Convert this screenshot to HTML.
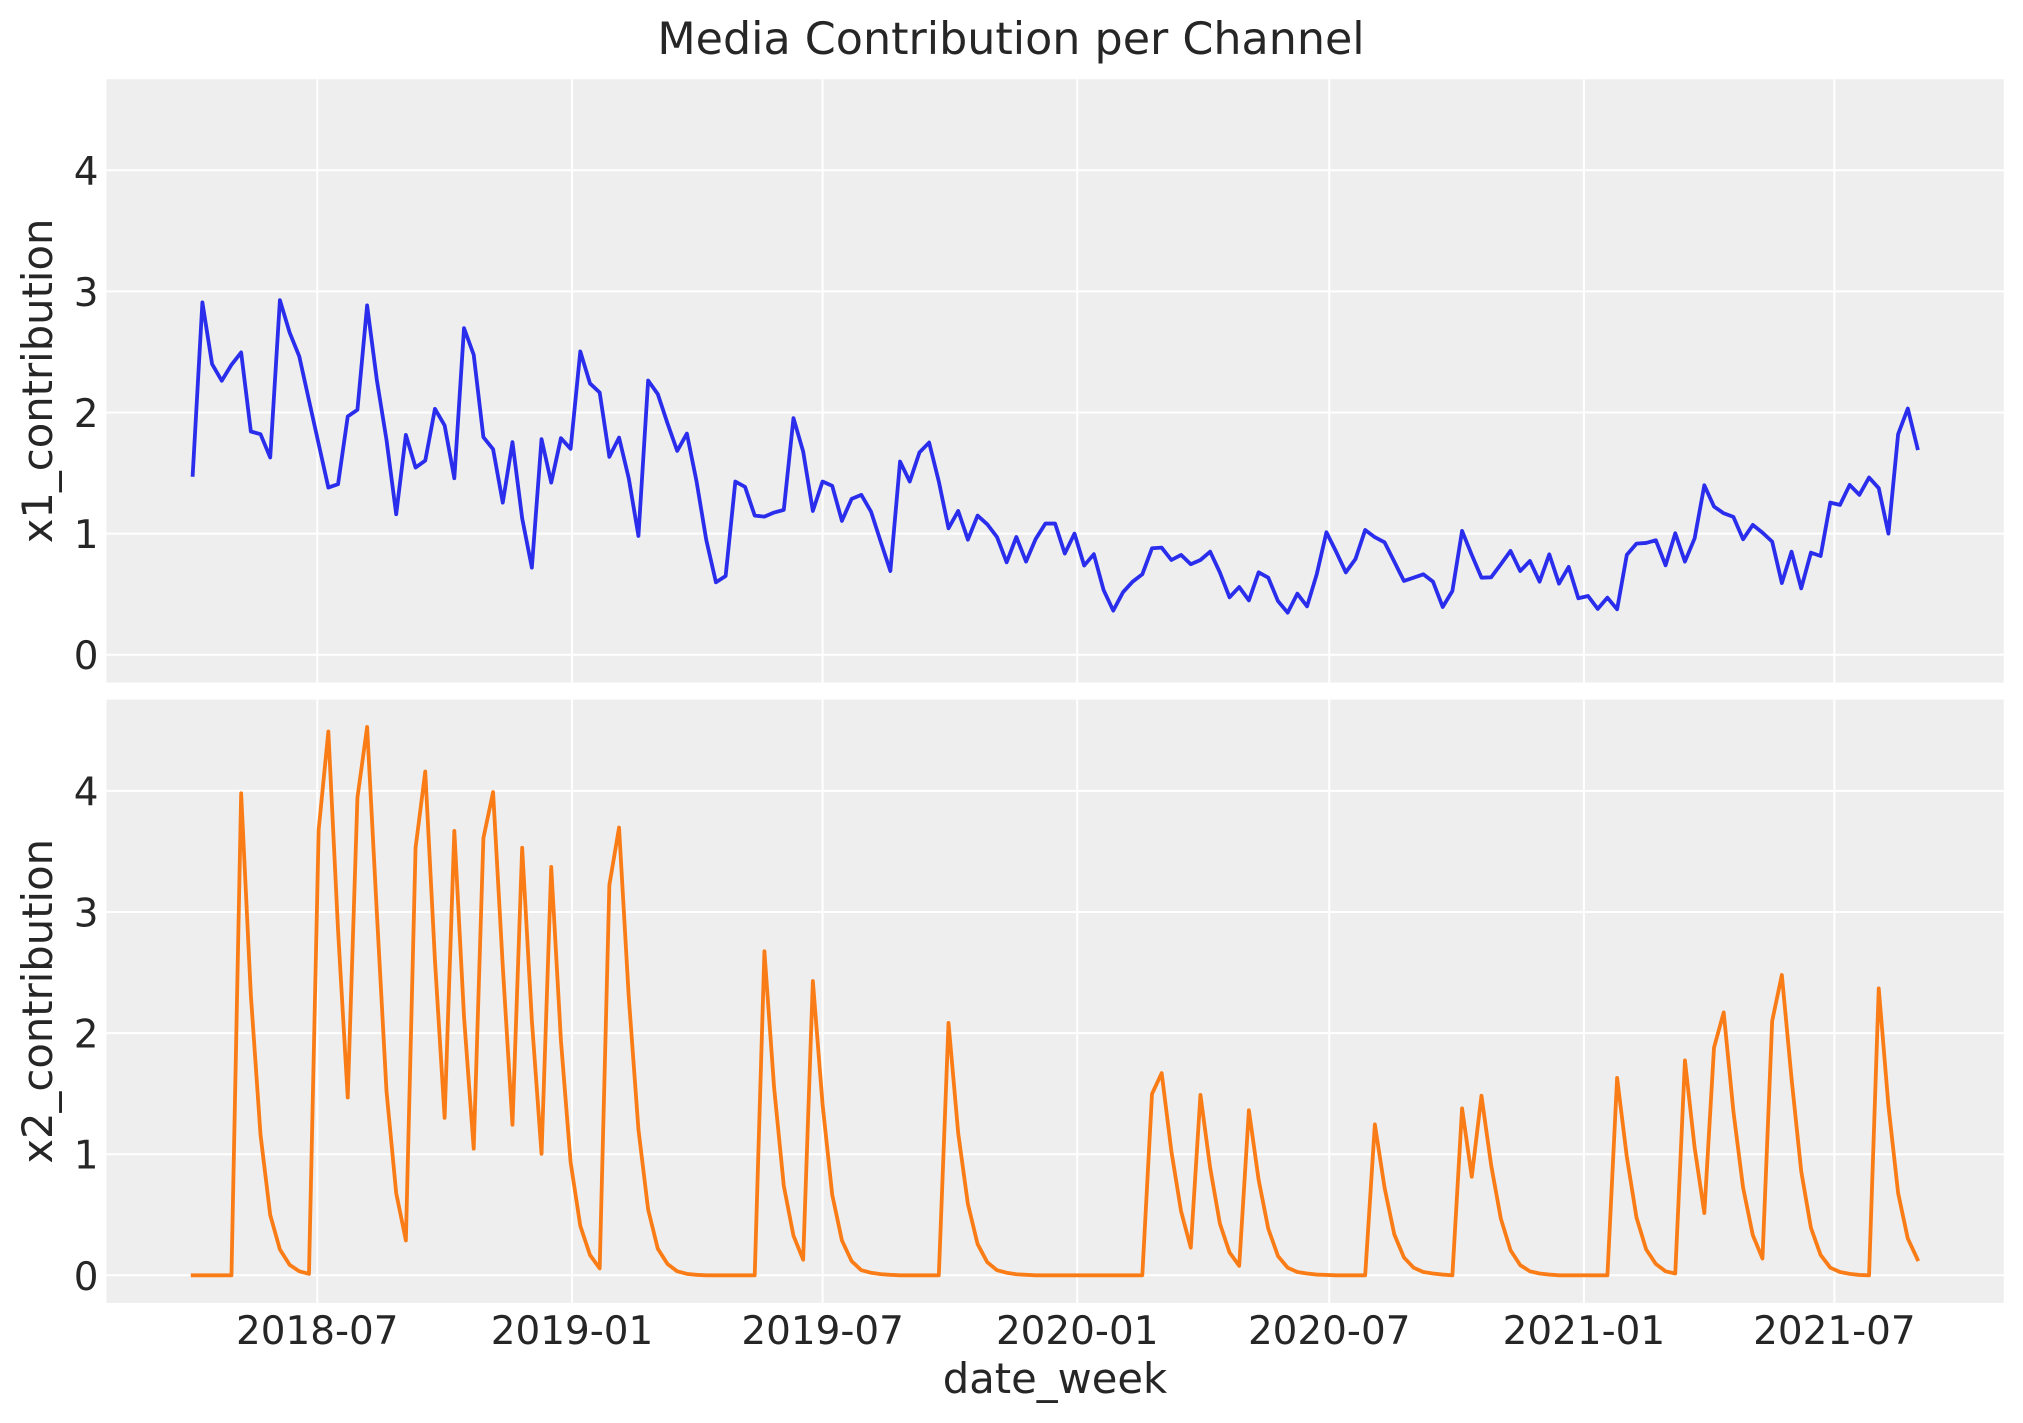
<!DOCTYPE html>
<html>
<head>
<meta charset="utf-8">
<style>
  html, body { margin: 0; padding: 0; background: #ffffff; }
  svg { display: block; }
  text { font-family: "DejaVu Sans", "Liberation Sans", sans-serif; fill: #262626; }
</style>
</head>
<body>
<svg width="2023" height="1423" viewBox="0 0 2023 1423" xmlns="http://www.w3.org/2000/svg">
  <rect x="0" y="0" width="2023" height="1423" fill="#ffffff"/>

  <!-- Title -->
  <text x="1011" y="54" font-size="44.4" text-anchor="middle">Media Contribution per Channel</text>

  <!-- ===== Top axes ===== -->
  <rect x="106.5" y="79.2" width="1897.2" height="603.3" fill="#eeeeee"/>
  <g stroke="#ffffff" stroke-width="2" fill="none">
    <line x1="106.5" x2="2003.7" y1="654.7" y2="654.7"/>
    <line x1="106.5" x2="2003.7" y1="533.6" y2="533.6"/>
    <line x1="106.5" x2="2003.7" y1="412.5" y2="412.5"/>
    <line x1="106.5" x2="2003.7" y1="291.4" y2="291.4"/>
    <line x1="106.5" x2="2003.7" y1="170.3" y2="170.3"/>
    <line x1="317.3" x2="317.3" y1="79.2" y2="682.5"/>
    <line x1="572.0" x2="572.0" y1="79.2" y2="682.5"/>
    <line x1="822.6" x2="822.6" y1="79.2" y2="682.5"/>
    <line x1="1077.2" x2="1077.2" y1="79.2" y2="682.5"/>
    <line x1="1329.2" x2="1329.2" y1="79.2" y2="682.5"/>
    <line x1="1583.9" x2="1583.9" y1="79.2" y2="682.5"/>
    <line x1="1834.4" x2="1834.4" y1="79.2" y2="682.5"/>
  </g>
  <g font-size="38.9" text-anchor="end">
    <text x="98.5" y="669.2">0</text>
    <text x="98.5" y="548.1">1</text>
    <text x="98.5" y="427.0">2</text>
    <text x="98.5" y="305.9">3</text>
    <text x="98.5" y="184.8">4</text>
  </g>
  <text transform="translate(52,380.9) rotate(-90)" font-size="41.7" text-anchor="middle">x1_contribution</text>

  <g transform="translate(192.7,654.7) scale(9.6899,-121.1)">
    <polyline fill="none" stroke="#2a2eec" stroke-width="3.8" stroke-linejoin="round" stroke-linecap="square" vector-effect="non-scaling-stroke"
      points="0,1.485 1,2.909 2,2.40 3,2.262 4,2.394 5,2.496 6,1.843 7,1.821 8,1.628 9,2.928 10,2.661 11,2.463 12,2.10 13,1.74 14,1.38 15,1.408 16,1.967 17,2.022 18,2.884 19,2.27 20,1.774 21,1.16 22,1.815 23,1.545 24,1.603 25,2.03 26,1.893 27,1.457 28,2.697 29,2.477 30,1.796 31,1.697 32,1.256 33,1.755 34,1.127 35,0.719 36,1.78 37,1.421 38,1.788 39,1.70 40,2.504 41,2.24 42,2.165 43,1.634 44,1.793 45,1.457 46,0.981 47,2.264 48,2.152 49,1.91 50,1.683 51,1.826 52,1.43 53,0.948 54,0.598 55,0.65 56,1.43 57,1.386 58,1.149 59,1.14 60,1.174 61,1.196 62,1.953 63,1.678 64,1.187 65,1.43 66,1.394 67,1.105 68,1.287 69,1.32 70,1.182 71,0.934 72,0.691 73,1.595 74,1.43 75,1.67 76,1.752 77,1.43 78,1.044 79,1.187 80,0.95 81,1.149 82,1.077 83,0.972 84,0.763 85,0.972 86,0.769 87,0.956 88,1.083 89,1.083 90,0.835 91,1.0 92,0.736 93,0.83 94,0.535 95,0.364 96,0.515 97,0.603 98,0.664 99,0.879 100,0.884 101,0.782 102,0.824 103,0.747 104,0.782 105,0.851 106,0.68 107,0.474 108,0.559 109,0.449 110,0.68 111,0.636 112,0.443 113,0.347 114,0.504 115,0.399 116,0.664 117,1.011 118,0.851 119,0.68 120,0.79 121,1.03 122,0.97 123,0.928 124,0.769 125,0.609 126,0.636 127,0.664 128,0.603 129,0.394 130,0.526 131,1.022 132,0.824 133,0.636 134,0.639 135,0.747 136,0.857 137,0.691 138,0.774 139,0.603 140,0.829 141,0.587 142,0.725 143,0.466 144,0.485 145,0.378 146,0.471 147,0.375 148,0.824 149,0.917 150,0.923 151,0.945 152,0.738 153,1.003 154,0.769 155,0.961 156,1.399 157,1.223 158,1.168 159,1.138 160,0.953 161,1.072 162,1.008 163,0.934 164,0.592 165,0.851 166,0.548 167,0.843 168,0.815 169,1.256 170,1.237 171,1.402 172,1.32 173,1.463 174,1.375 175,1.0 176,1.821 177,2.033 178,1.705"/>
  </g>

  <!-- ===== Bottom axes ===== -->
  <rect x="106.5" y="699.6" width="1897.2" height="603.3" fill="#eeeeee"/>
  <g stroke="#ffffff" stroke-width="2" fill="none">
    <line x1="106.5" x2="2003.7" y1="1275.3" y2="1275.3"/>
    <line x1="106.5" x2="2003.7" y1="1154.2" y2="1154.2"/>
    <line x1="106.5" x2="2003.7" y1="1033.1" y2="1033.1"/>
    <line x1="106.5" x2="2003.7" y1="912.0" y2="912.0"/>
    <line x1="106.5" x2="2003.7" y1="790.9" y2="790.9"/>
    <line x1="317.3" x2="317.3" y1="699.6" y2="1302.9"/>
    <line x1="572.0" x2="572.0" y1="699.6" y2="1302.9"/>
    <line x1="822.6" x2="822.6" y1="699.6" y2="1302.9"/>
    <line x1="1077.2" x2="1077.2" y1="699.6" y2="1302.9"/>
    <line x1="1329.2" x2="1329.2" y1="699.6" y2="1302.9"/>
    <line x1="1583.9" x2="1583.9" y1="699.6" y2="1302.9"/>
    <line x1="1834.4" x2="1834.4" y1="699.6" y2="1302.9"/>
  </g>
  <g font-size="38.9" text-anchor="end">
    <text x="98.5" y="1289.8">0</text>
    <text x="98.5" y="1168.7">1</text>
    <text x="98.5" y="1047.6">2</text>
    <text x="98.5" y="926.5">3</text>
    <text x="98.5" y="805.4">4</text>
  </g>
  <text transform="translate(52,1001.3) rotate(-90)" font-size="41.7" text-anchor="middle">x2_contribution</text>

  <g transform="translate(192.7,1275.3) scale(9.6899,-121.1)">
    <polyline fill="none" stroke="#fa7c17" stroke-width="3.8" stroke-linejoin="round" stroke-linecap="square" vector-effect="non-scaling-stroke"
      points="0,0 1,0 2,0 3,0 4,0 5,3.98 6,2.315 7,1.159 8,0.498 9,0.213 10,0.087 11,0.033 12,0.012 13,3.68 14,4.49 15,2.85 16,1.468 17,3.943 18,4.528 19,3.0 20,1.52 21,0.679 22,0.288 23,3.53 24,4.16 25,2.6 26,1.30 27,3.67 28,2.135 29,1.045 30,3.61 31,3.99 32,2.55 33,1.243 34,3.53 35,2.105 36,1.003 37,3.372 38,1.94 39,0.934 40,0.408 41,0.168 42,0.057 43,3.222 44,3.697 45,2.3 46,1.204 47,0.544 48,0.219 49,0.093 50,0.033 51,0.012 52,0.004 53,0 54,0 55,0 56,0 57,0 58,0 59,2.676 60,1.55 61,0.739 62,0.327 63,0.129 64,2.43 65,1.414 66,0.664 67,0.288 68,0.117 69,0.042 70,0.021 71,0.01 72,0.004 73,0 74,0 75,0 76,0 77,0 78,2.084 79,1.174 80,0.589 81,0.258 82,0.108 83,0.042 84,0.021 85,0.009 86,0.004 87,0 88,0 89,0 90,0 91,0 92,0 93,0 94,0 95,0 96,0 97,0 98,0 99,1.498 100,1.67 101,1.024 102,0.529 103,0.228 104,1.49 105,0.889 106,0.429 107,0.189 108,0.078 109,1.363 110,0.79 111,0.384 112,0.159 113,0.063 114,0.027 115,0.015 116,0.006 117,0.003 118,0 119,0 120,0 121,0 122,1.246 123,0.724 124,0.339 125,0.147 126,0.063 127,0.027 128,0.015 129,0.006 130,0 131,1.378 132,0.814 133,1.483 134,0.91 135,0.468 136,0.207 137,0.084 138,0.033 139,0.015 140,0.006 141,0 142,0 143,0 144,0 145,0 146,0 147,1.63 148,0.979 149,0.477 150,0.213 151,0.093 152,0.033 153,0.015 154,1.775 155,1.054 156,0.514 157,1.88 158,2.171 159,1.354 160,0.724 161,0.333 162,0.138 163,2.099 164,2.48 165,1.625 166,0.859 167,0.393 168,0.168 169,0.063 170,0.027 171,0.012 172,0.003 173,0 174,2.369 175,1.399 176,0.679 177,0.303 178,0.132"/>
  </g>

  <!-- x tick labels -->
  <g font-size="38.9" text-anchor="middle">
    <text x="317.3" y="1344">2018-07</text>
    <text x="572.0" y="1344">2019-01</text>
    <text x="822.6" y="1344">2019-07</text>
    <text x="1077.2" y="1344">2020-01</text>
    <text x="1329.2" y="1344">2020-07</text>
    <text x="1583.9" y="1344">2021-01</text>
    <text x="1834.4" y="1344">2021-07</text>
  </g>
  <text x="1055" y="1393" font-size="41.7" text-anchor="middle">date_week</text>
</svg>
</body>
</html>
